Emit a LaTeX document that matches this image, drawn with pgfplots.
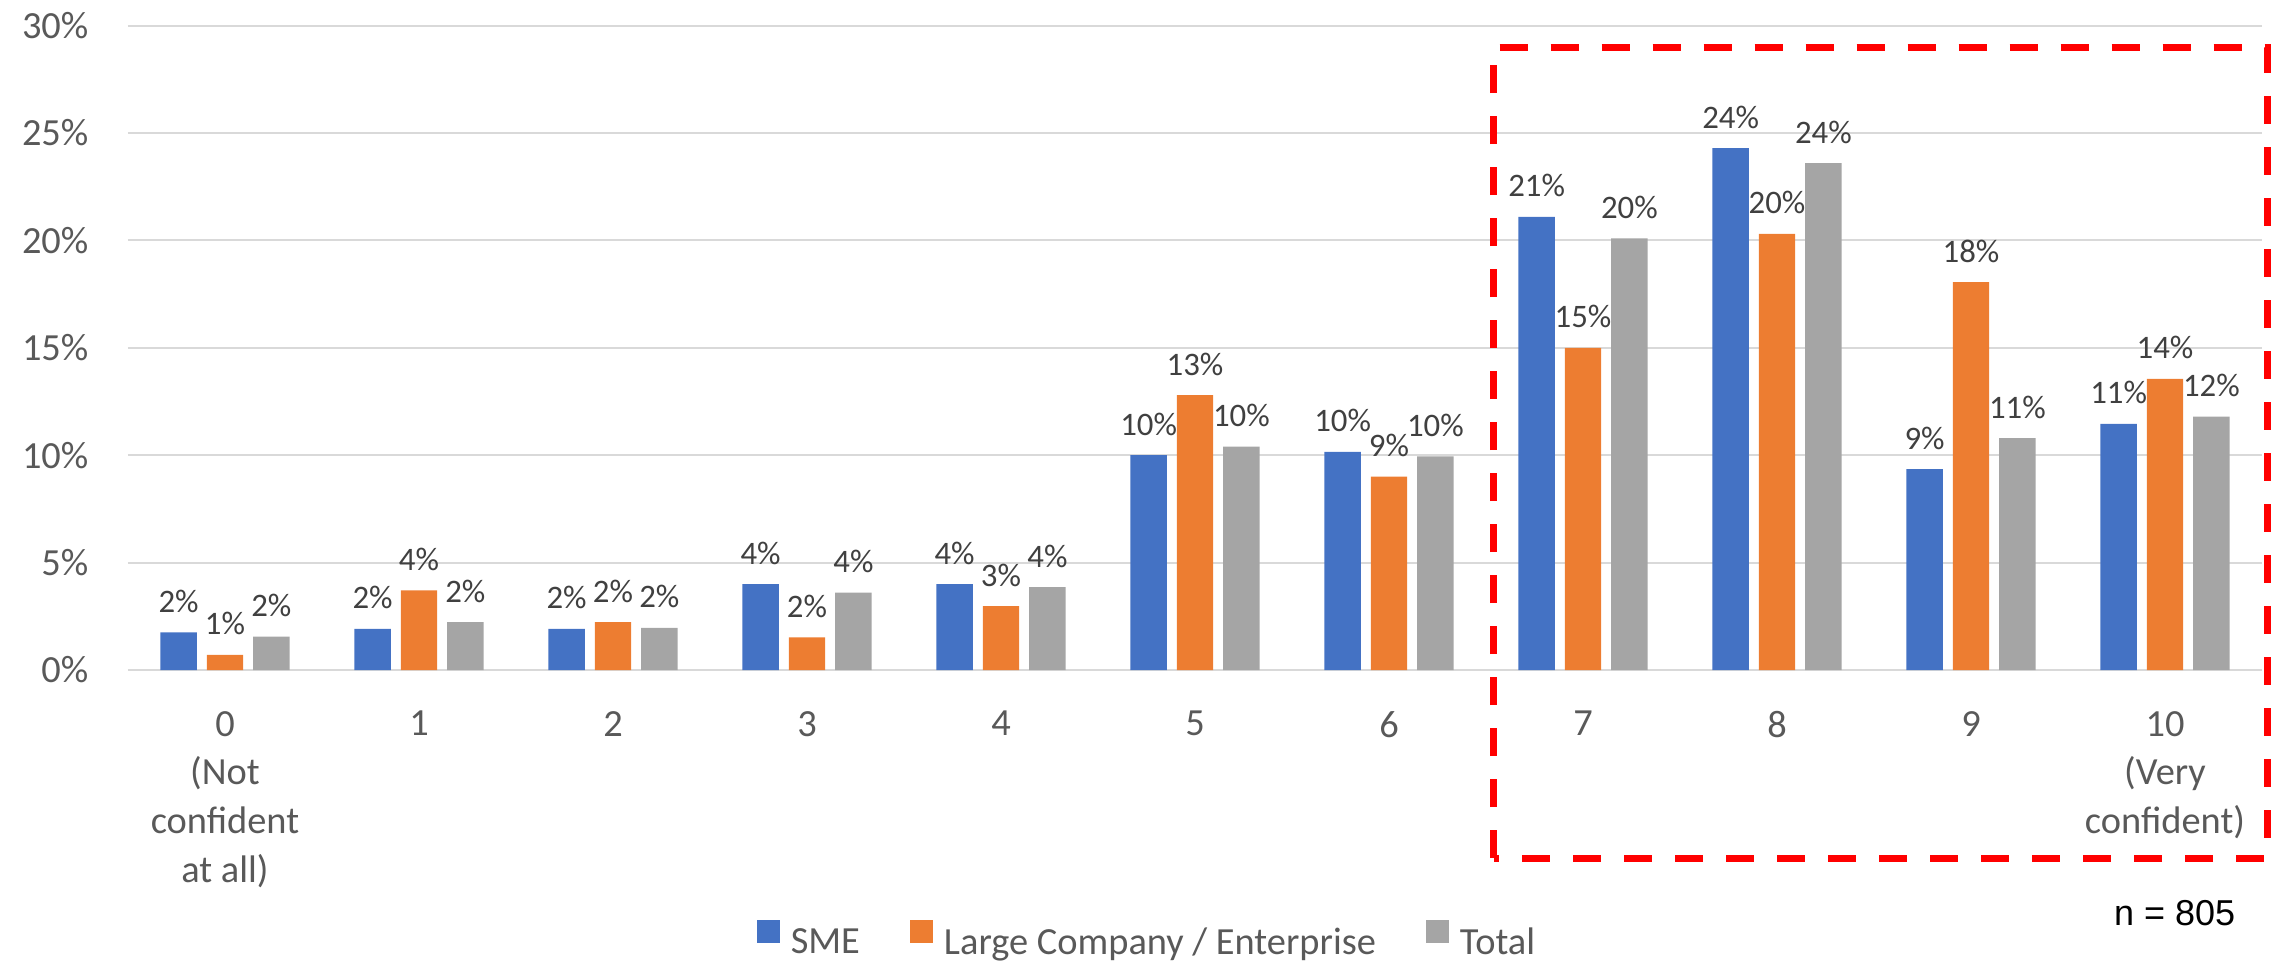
\documentclass[border=0pt]{standalone}
\usepackage{pgfplots}
\pgfplotsset{compat=1.18}
\usepackage{fontspec}
\setmainfont{Carlito}
\newfontfamily\arialfont{Liberation Sans}
\definecolor{cblue}{HTML}{4472C4}
\definecolor{corange}{HTML}{ED7D31}
\definecolor{cgray}{HTML}{A5A5A5}
\definecolor{ctext}{HTML}{595959}
\definecolor{clabel}{HTML}{404040}
\definecolor{cgrid}{HTML}{D9D9D9}
\begin{document}
\begin{tikzpicture}
\begin{axis}[
  scale only axis,
  width=533.5pt, height=161.1pt,
  xmin=-0.5, xmax=10.5, ymin=0, ymax=30,
  clip=false,
  ybar=2.5pt, bar width=9.1pt,
  axis line style={draw=none},
  major tick length=0pt,
  ymajorgrids, grid style={cgrid, line width=0.5pt},
  ytick={0,5,10,15,20,25,30},
  yticklabels={0\%,5\%,10\%,15\%,20\%,25\%,30\%},
  yticklabel style={font=\fontsize{9.6}{11.5}\selectfont, text=ctext, anchor=east, inner sep=0pt, xshift=-9.7pt},
  xtick={0,1,2,3,4,5,6,7,8,9,10},
  xticklabels={{0\\(Not\\confident\\at all)},1,2,3,4,5,6,7,8,9,{10\\(Very\\confident)}},
  xticklabel style={font=\fontsize{9.6}{12.2}\selectfont, text=ctext, align=center, anchor=north, inner sep=0pt, yshift=-10.1pt},
  point meta=explicit symbolic,
  nodes near coords,
  every node near coord/.append style={font=\fontsize{8.2}{10}\selectfont, text=clabel, anchor=base, inner sep=0pt, yshift=5pt},
  legend columns=3,
  legend style={draw=none, fill=none, at={(0.477,-0.42)}, anchor=center,
    font=\fontsize{9.6}{11.5}\selectfont, text=ctext,
    nodes={inner sep=0pt},
    /tikz/every odd column/.append style={column sep=2.75pt},
    /tikz/every even column/.append style={column sep=12.5pt}},
  legend image code/.code={\fill[#1] (0pt,0.25pt) rectangle (5.75pt,6pt);},
]
\addplot[fill=cblue, draw=none] coordinates {
 (0,1.75) [2\%] (1,1.92) [2\%] (2,1.92) [2\%] (3,4.0) [4\%] (4,4.0) [4\%]
 (5,10.0) [10\%] (6,10.15) [10\%] (7,21.1) [21\%] (8,24.3) [24\%]
 (9,9.35) [9\%] (10,11.46) [11\%]};
\addplot[fill=corange, draw=none] coordinates {
 (0,0.71) [1\%] (1,3.71) [4\%] (2,2.23) [2\%] (3,1.52) [2\%] (4,2.98) [3\%]
 (5,12.8) [13\%] (6,9.0) [9\%] (7,15.0) [15\%] (8,20.3) [20\%]
 (9,18.06) [18\%] (10,13.55) [14\%]};
\addplot[fill=cgray, draw=none] coordinates {
 (0,1.56) [2\%] (1,2.23) [2\%] (2,1.96) [2\%] (3,3.6) [4\%] (4,3.86) [4\%]
 (5,10.4) [10\%] (6,9.95) [10\%] (7,20.1) [20\%] (8,23.6) [24\%]
 (9,10.8) [11\%] (10,11.8) [12\%]};
\legend{SME, Large Company / Enterprise, Total}
\draw[red, line width=1.75pt, dash pattern=on 7pt off 5.75pt]
  (axis cs:6.541,-8.76) rectangle (axis cs:10.526,28.97);
\node[font=\arialfont\fontsize{9}{11}\selectfont, text=black] at (axis cs:10.05,-11.31) {n = 805};
\end{axis}
\pgfresetboundingbox
\path[use as bounding box] (-32pt,-74pt) rectangle (537.75pt,167.5pt);
\end{tikzpicture}
\end{document}
